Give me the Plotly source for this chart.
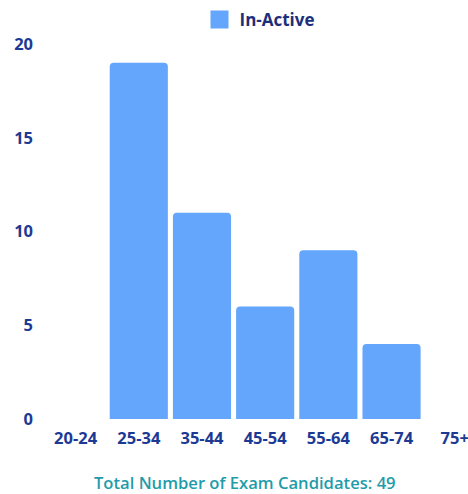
import plotly.graph_objects as go

categories = ["20-24", "25-34", "35-44", "45-54", "55-64", "65-74", "75+"]
inactive = [0, 19, 11, 6, 9, 4, 0]
series_name = "In-Active"
y_ticks = [0, 5, 10, 15, 20]
total_label = "Total Number of Exam Candidates: " + str(sum(inactive))

BAR = "#64a6fb"
NAVY = "#1d2f7c"
TICK = "#1c3a93"
TEAL = "#1f9caa"
FONT = "Open Sans"

fig = go.Figure()
fig.add_trace(go.Bar(
    x=categories, y=inactive, marker=dict(color=BAR, line=dict(width=0)),
    showlegend=False, name=series_name,
))
fig.add_trace(go.Scatter(
    x=[None], y=[None], mode="markers", name=series_name,
    marker=dict(symbol="square", size=16, color=BAR, line=dict(color=BAR, width=2)),
))

fig.update_layout(
    width=468, height=494,
    margin=dict(l=44, r=0, t=44, b=75, autoexpand=False),
    paper_bgcolor="white", plot_bgcolor="white",
    bargap=0.08, barcornerradius=4,
    font=dict(family=FONT, color=NAVY),
    legend=dict(
        orientation="h", x=(260 - 44) / 424, xanchor="center",
        y=(419 - 20) / 375, yanchor="middle",
        font=dict(family=FONT, size=17, color=NAVY, weight="bold"),
        itemsizing="trace", bgcolor="rgba(0,0,0,0)",
    ),
    xaxis=dict(
        type="category", categoryorder="array", categoryarray=categories,
        range=[-0.5, 6.21], showgrid=False, zeroline=False, showline=False,
        ticks="", tickfont=dict(family=FONT, size=16.5, color=TICK, weight="bold"),
        ticklabelstandoff=7,
    ),
    yaxis=dict(
        range=[0, 20], tickvals=y_ticks, showgrid=False, zeroline=False,
        showline=False, ticks="",
        tickfont=dict(family=FONT, size=16.5, color=TICK, weight="bold"),
        ticklabelstandoff=10,
    ),
    annotations=[dict(
        text=total_label, xref="paper", yref="paper",
        x=(245 - 44) / 424, y=-(482 - 419) / 375, xanchor="center", yanchor="middle",
        showarrow=False,
        font=dict(family=FONT, size=16.6, color=TEAL, weight=600),
    )],
)

fig.write_html("out.html")
